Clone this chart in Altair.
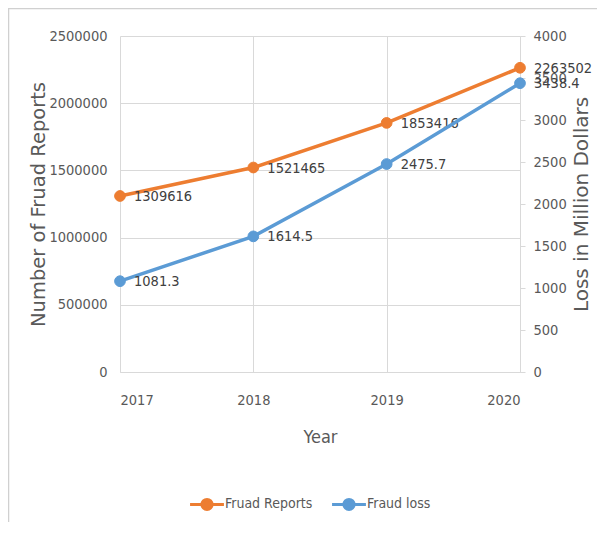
import altair as alt
import pandas as pd

years = [2017, 2018, 2019, 2020]
reports = [1309616, 1521465, 1853416, 2263502]
loss = [1081.3, 1614.5, 2475.7, 3438.4]
series_names = ["Fruad Reports", "Fraud loss"]
colors = ["#ED7D31", "#5B9BD5"]

df_r = pd.DataFrame({"Year": years, "value": reports, "series": series_names[0],
                     "label": [str(v) for v in reports]})
df_l = pd.DataFrame({"Year": years, "value": loss, "series": series_names[1],
                     "label": [f"{v:.1f}" for v in loss]})

NARROW = "DejaVu Sans Condensed, Liberation Sans Narrow, sans-serif"
WIDE = "DejaVu Sans, Noto Sans, sans-serif"
GREY = "#595959"
FS = 14.5

x_enc = alt.X("Year:Q", scale=alt.Scale(domain=[2017, 2020], nice=False, zero=False),
              axis=alt.Axis(values=years, format="d", title="Year", grid=True, ticks=False,
                            domain=True, domainColor="#d9d9d9", gridColor="#d9d9d9",
                            labelPadding=21, labelFont=NARROW, labelFontSize=FS,
                            labelColor=GREY, titleFont=NARROW, titleFontSize=18,
                            titleFontWeight="normal", titleColor=GREY,
                            titleX=200, titleY=65, titleBaseline="middle"))

legend_cfg = dict(title=None, orient="none", direction="horizontal",
                  legendX=74, legendY=455,
                  symbolType="M-1.5,0 H1.5 M0.45,0 A0.45,0.45 0 1 1 -0.45,0 A0.45,0.45 0 1 1 0.45,0 Z",
                  symbolSize=510, symbolStrokeWidth=3,
                  labelFont=NARROW, labelFontSize=14, labelColor=GREY,
                  labelOffset=5, columnPadding=13)

cscale = alt.Scale(domain=series_names, range=colors)

y_left = alt.Y("value:Q", scale=alt.Scale(domain=[0, 2500000], nice=False),
               axis=alt.Axis(values=[0, 500000, 1000000, 1500000, 2000000, 2500000],
                             format="d", title="Number of Fruad Reports", grid=True,
                             gridColor="#d9d9d9", ticks=False, domain=False,
                             labelPadding=13, labelFont=NARROW, labelFontSize=FS,
                             labelColor=GREY, titleFont=WIDE, titleFontSize=19.5,
                             titleFontWeight="normal", titleColor=GREY,
                             titleX=-82, titleY=168, titleAngle=270,
                             titleBaseline="middle", titleAlign="center"))

y_right = alt.Y("value:Q", scale=alt.Scale(domain=[0, 4000], nice=False),
                axis=alt.Axis(orient="right", values=[0, 500, 1000, 1500, 2000, 2500, 3000, 3500, 4000],
                              format="d", title="Loss in Million Dollars", grid=False,
                              ticks=True, tickSize=5, tickColor="#d9d9d9",
                              domain=True, domainColor="#d9d9d9",
                              labelPadding=8, labelFont=NARROW, labelFontSize=FS,
                              labelColor=GREY, titleFont=WIDE, titleFontSize=20,
                              titleFontWeight="normal", titleColor=GREY,
                              titleX=61, titleY=168, titleAngle=270,
                              titleBaseline="middle", titleAlign="center"))

def layer(df, y):
    base = alt.Chart(df).encode(x=x_enc, y=y)
    line = base.mark_line(strokeWidth=3.5).encode(
        color=alt.Color("series:N", scale=cscale, legend=alt.Legend(**legend_cfg)))
    pts = base.mark_point(filled=False, size=115, opacity=1, strokeWidth=1).encode(
        color=alt.Color("series:N", scale=cscale, legend=alt.Legend(**legend_cfg)),
        fill=alt.Fill("series:N", scale=cscale, legend=alt.Legend(**legend_cfg)))
    txt = base.mark_text(align="left", baseline="middle", dx=14, dy=1,
                         font=NARROW, fontSize=FS, color="#404040").encode(
        text="label:N")
    return alt.layer(line, pts, txt)

border = alt.Chart(alt.Data(values=[{"a": 1}])).mark_rect(
    fill=None, stroke="#d0d0d0", strokeWidth=1.5).encode(
    x=alt.value(-111.5), x2=alt.value(700), y=alt.value(-27.5), y2=alt.value(700))

chart = alt.layer(
    border,
    layer(df_r, y_left),
    layer(df_l, y_right),
).resolve_scale(y="independent").properties(
    width=400, height=336,
    padding={"left": 112, "top": 28, "right": 77, "bottom": 150},
    autosize=alt.AutoSizeParams(type="none"),
    background="white",
).configure_view(stroke=None)

chart.save("out.html", embed_options={"renderer": "svg", "actions": False})
